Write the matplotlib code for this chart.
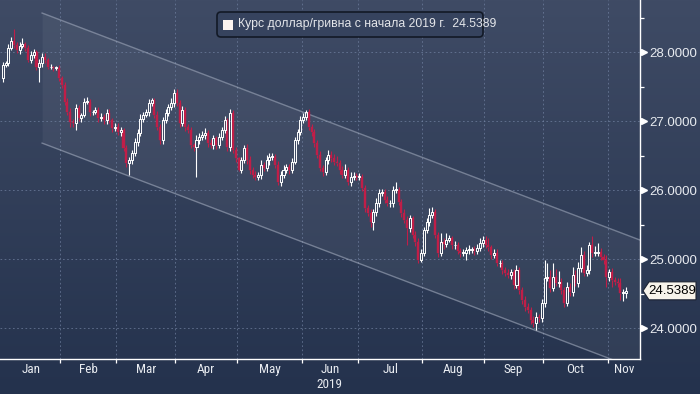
import numpy as np
import pandas as pd
import matplotlib
matplotlib.use("Agg")
import matplotlib.pyplot as plt
from matplotlib import font_manager, transforms
from matplotlib.patches import Rectangle, Polygon, FancyBboxPatch
from matplotlib.collections import PatchCollection, LineCollection
from matplotlib.ticker import NullFormatter

# trading days shown on the chart
dates = pd.bdate_range("2019-01-03", "2019-11-11")

# daily closes, USD/UAH
jan = [27.81, 27.84, 28.06, 28.16, 28.10, 28.03, 28.09, 28.12, 28.06, 27.88, 27.96,
       28.00, 27.78, 27.84, 27.93, 27.88, 27.78, 27.78, 27.77, 27.77, 27.62]
feb = [27.52, 27.28, 27.13, 26.99, 26.97, 27.19, 27.04, 27.09, 27.28, 27.28,
       27.13, 27.13, 27.16, 27.04, 27.06, 27.01, 27.12, 27.01, 26.90, 26.92]
mar = [26.84, 26.87, 26.61, 26.39, 26.43, 26.54, 26.70, 26.83, 27.03, 27.09, 27.13,
       27.26, 27.30, 27.09, 26.91, 26.72, 27.01, 27.12, 27.20, 27.26, 27.41]
apr = [27.26, 26.97, 27.16, 26.91, 26.87, 26.65, 26.62, 26.72, 26.77, 26.80, 26.83,
       26.68, 26.65, 26.75, 26.65, 26.77, 26.87, 27.01, 26.62, 27.12, 26.58, 26.46]
may = [26.29, 26.43, 26.61, 26.43, 26.29, 26.22, 26.19, 26.22, 26.36, 26.32, 26.43, 26.48,
       26.48, 26.36, 26.12, 26.22, 26.29, 26.33, 26.29, 26.41, 26.72, 26.84, 27.01]
jun = [27.06, 27.13, 26.91, 26.84, 26.68, 26.51, 26.32, 26.26, 26.43, 26.51,
       26.46, 26.41, 26.39, 26.29, 26.22, 26.29, 26.12, 26.19, 26.20, 26.19]
jul = [26.19, 26.03, 25.74, 25.67, 25.54, 25.68, 25.81, 25.96, 25.97, 25.86, 25.81, 25.81,
       26.00, 26.00, 25.83, 25.67, 25.57, 25.45, 25.59, 25.35, 25.25, 24.99, 25.09]
aug = [25.42, 25.54, 25.64, 25.68, 25.35, 25.09, 25.25, 25.22, 25.28, 25.30, 25.20,
       25.20, 25.12, 25.09, 25.09, 25.13, 25.13, 25.14, 25.12, 25.16, 25.23, 25.28]
sep = [25.20, 25.17, 25.06, 25.09, 24.94, 24.94, 24.84, 24.80, 24.77, 24.81, 24.62,
       24.84, 24.55, 24.41, 24.30, 24.26, 24.12, 24.07, 24.16, 24.14, 24.36]
oct = [24.72, 24.74, 24.58, 24.74, 24.65, 24.67, 24.55, 24.36, 24.59, 24.52, 24.77, 24.65,
       24.87, 25.06, 24.80, 24.84, 25.20, 25.09, 25.09, 25.10, 25.03, 24.99, 24.74]
nov = [24.81, 24.70, 24.67, 24.65, 24.51, 24.51, 24.5389]
first_open = 27.62

# wick lengths above / below the candle body
hi_wick = [0.04, 0.03, 0.05, 0.06, 0.17, 0.04, 0.06, 0.08, 0.03, 0.04, 0.05, 0.04, 0.03, 0.06, 0.05, 0.06, 0.03, 0.04, 0.02, 0.03, 0.04,
           0.03, 0.04, 0.05, 0.06, 0.04, 0.05, 0.04, 0.03, 0.05, 0.07, 0.04, 0.03, 0.05, 0.04, 0.06, 0.04, 0.05, 0.06, 0.04, 0.05,
           0.05, 0.04, 0.03, 0.04, 0.05, 0.04, 0.06, 0.05, 0.07, 0.04, 0.05, 0.06, 0.04, 0.03, 0.05, 0.04, 0.05, 0.06, 0.04, 0.07, 0.05,
           0.05, 0.04, 0.06, 0.05, 0.04, 0.05, 0.03, 0.08, 0.06, 0.05, 0.07, 0.04, 0.06, 0.05, 0.04, 0.06, 0.05, 0.07, 0.04, 0.05, 0.04, 0.05,
           0.02, 0.05, 0.04, 0.05, 0.06, 0.04, 0.05, 0.04, 0.07, 0.05, 0.08, 0.06, 0.05, 0.04, 0.06, 0.05, 0.07, 0.04, 0.05, 0.06, 0.05, 0.04, 0.06,
           0.05, 0.03, 0.04, 0.05, 0.04, 0.05, 0.06, 0.04, 0.05, 0.07, 0.05, 0.06, 0.08, 0.05, 0.06, 0.09, 0.05, 0.07, 0.06, 0.05,
           0.05, 0.04, 0.05, 0.04, 0.06, 0.05, 0.07, 0.06, 0.05, 0.04, 0.06, 0.05, 0.06, 0.12, 0.05, 0.04, 0.05, 0.06, 0.05, 0.04, 0.05, 0.06, 0.05,
           0.05, 0.06, 0.10, 0.08, 0.05, 0.04, 0.12, 0.06, 0.10, 0.05, 0.04, 0.06, 0.05, 0.04, 0.06, 0.05, 0.07, 0.04, 0.05, 0.06, 0.08, 0.05,
           0.05, 0.10, 0.04, 0.05, 0.06, 0.04, 0.05, 0.04, 0.06, 0.05, 0.04, 0.08, 0.05, 0.04, 0.05, 0.06, 0.04, 0.05, 0.07, 0.05, 0.06,
           0.27, 0.20, 0.10, 0.20, 0.12, 0.16, 0.06, 0.05, 0.08, 0.06, 0.12, 0.07, 0.08, 0.12, 0.06, 0.07, 0.05, 0.14, 0.10, 0.13, 0.06, 0.05, 0.07,
           0.05, 0.06, 0.04, 0.05, 0.07, 0.06, 0.05]
lo_wick = [0.05, 0.03, 0.04, 0.03, 0.04, 0.05, 0.06, 0.03, 0.04, 0.03, 0.04, 0.05, 0.04, 0.21, 0.05, 0.04, 0.03, 0.03, 0.04, 0.03, 0.04,
           0.04, 0.05, 0.04, 0.08, 0.05, 0.10, 0.04, 0.05, 0.03, 0.04, 0.05, 0.04, 0.03, 0.05, 0.04, 0.06, 0.05, 0.04, 0.06, 0.05,
           0.04, 0.05, 0.04, 0.06, 0.17, 0.05, 0.04, 0.06, 0.05, 0.04, 0.03, 0.05, 0.04, 0.05, 0.04, 0.05, 0.06, 0.04, 0.05, 0.04, 0.05,
           0.04, 0.05, 0.04, 0.06, 0.05, 0.04, 0.05, 0.43, 0.05, 0.04, 0.06, 0.05, 0.04, 0.06, 0.05, 0.04, 0.05, 0.04, 0.06, 0.05, 0.04, 0.05,
           0.02, 0.05, 0.04, 0.05, 0.06, 0.05, 0.04, 0.05, 0.06, 0.04, 0.05, 0.07, 0.05, 0.04, 0.05, 0.06, 0.05, 0.04, 0.06, 0.05, 0.04, 0.05, 0.04,
           0.04, 0.05, 0.04, 0.05, 0.06, 0.04, 0.05, 0.06, 0.04, 0.05, 0.06, 0.05, 0.04, 0.06, 0.05, 0.04, 0.05, 0.06, 0.04, 0.05,
           0.04, 0.05, 0.06, 0.05, 0.07, 0.12, 0.06, 0.05, 0.04, 0.05, 0.04, 0.06, 0.05, 0.04, 0.05, 0.06, 0.05, 0.25, 0.06, 0.05, 0.06, 0.05, 0.04,
           0.04, 0.05, 0.06, 0.04, 0.05, 0.06, 0.04, 0.08, 0.05, 0.04, 0.06, 0.05, 0.04, 0.06, 0.05, 0.10, 0.05, 0.04, 0.06, 0.05, 0.04, 0.05,
           0.04, 0.05, 0.06, 0.05, 0.04, 0.05, 0.06, 0.04, 0.05, 0.06, 0.05, 0.04, 0.05, 0.06, 0.05, 0.04, 0.06, 0.05, 0.10, 0.06, 0.05,
           0.05, 0.04, 0.06, 0.05, 0.04, 0.05, 0.06, 0.05, 0.04, 0.06, 0.05, 0.04, 0.05, 0.06, 0.05, 0.04, 0.05, 0.06, 0.04, 0.05, 0.04, 0.06, 0.15,
           0.06, 0.10, 0.05, 0.06, 0.10, 0.12, 0.08]

month_names = ["Jan", "Feb", "Mar", "Apr", "May", "Jun", "Jul", "Aug", "Sep", "Oct", "Nov"]
y_ticks = [24, 25, 26, 27, 28]
y_minor = [24.5, 25.5, 26.5, 27.5, 28.5]
last_price = 24.5389
legend_label = "Курс доллар/гривна с начала 2019 г."

# trend channel (day index, level)
chan_x = [14, 227]
chan_upper = [28.565, 25.275]
chan_lower = [26.68, 23.39]


def pick(*names):
    have = {f.name for f in font_manager.fontManager.ttflist}
    for n in names:
        if n in have:
            return n
    return "DejaVu Sans"


f_narrow = pick("Liberation Sans Narrow", "Roboto Condensed", "DejaVu Sans")
f_main = pick("Liberation Sans", "Arial", "DejaVu Sans")

close = np.array(jan + feb + mar + apr + may + jun + jul + aug + sep + oct + nov)
hi_w = np.array(hi_wick)
lo_w = np.array(lo_wick)
assert len(close) == len(dates) == len(hi_w) == len(lo_w)
opens = np.r_[first_open, close[:-1]]
top = np.maximum(opens, close)
bot = np.minimum(opens, close)
high = top + hi_w
low = bot - lo_w
x = np.arange(len(close))
up = close >= opens

W, H = 700, 394
fig = plt.figure(figsize=(W / 100, H / 100), dpi=100)

# background gradient
bg = fig.add_axes([0, 0, 1, 1], zorder=-10)
g = np.linspace(0, 1, 256)[:, None, None]
c_top = np.array([63, 75, 101]) / 255
c_bot = np.array([36, 50, 77]) / 255
bg.imshow(c_top * (1 - g) + c_bot * g, aspect="auto", extent=[0, 1, 0, 1])
bg.axis("off")

ax = fig.add_axes([0, 35 / H, 640 / W, 359 / H])
ax.set_facecolor("none")
x_lo, x_hi = -1, 227
ax.set_xlim(x_lo, x_hi)
ax.set_ylim(23.551, 28.754)

# channel
ax.fill_between(chan_x, chan_lower, chan_upper, color="white", alpha=0.05, lw=0, zorder=1)
ax.plot(chan_x, chan_upper, color="#a9b2c4", lw=1.0, alpha=0.55, zorder=2)
ax.plot(chan_x, chan_lower, color="#a9b2c4", lw=1.0, alpha=0.55, zorder=2)

# candles
red = "#c01e48"
cw = 0.72
up_boxes, dn_boxes, up_wicks, dn_wicks = [], [], [], []
for i in x:
    h = max(top[i] - bot[i], 0.008)
    box = Rectangle((i - cw / 2, bot[i]), cw, h)
    segs = [[(i, top[i]), (i, high[i])], [(i, low[i]), (i, bot[i])]]
    if up[i]:
        up_boxes.append(box)
        up_wicks += segs
    else:
        dn_boxes.append(box)
        dn_wicks += segs
ax.add_collection(LineCollection(dn_wicks, colors=red, linewidths=0.8, zorder=3))
ax.add_collection(PatchCollection(dn_boxes, facecolor=red, edgecolor=red, linewidth=0.3, zorder=3))
ax.add_collection(LineCollection(up_wicks, colors="white", linewidths=0.8, zorder=4))
ax.add_collection(PatchCollection(up_boxes, facecolor="none", edgecolor="white", linewidth=0.7, zorder=4))

# month ticks: boundaries as major, mid-month labels as minor
month_id = dates.year * 12 + dates.month
starts = np.r_[0, np.nonzero(np.diff(month_id))[0] + 1]
bounds = starts[1:] - 0.5
edges = np.r_[-0.5, bounds, x_hi]
mids = (edges[:-1] + edges[1:]) / 2
ax.set_xticks(bounds)
ax.xaxis.set_major_formatter(NullFormatter())
ax.set_xticks(mids, minor=True)
ax.set_xticklabels(month_names, minor=True, fontfamily=f_narrow, fontsize=9.5, color="#e8ebf0")
ax.tick_params(axis="x", which="major", length=3, width=0.9, color="white", direction="out")
ax.tick_params(axis="x", which="minor", length=0, pad=3)

ax.yaxis.tick_right()
ax.set_yticks(y_ticks)
ax.set_yticklabels([f"{v:.4f}" for v in y_ticks], fontfamily=f_main, fontsize=9.5, color="#e8ebf0")
ax.set_yticks(y_minor, minor=True)
ax.tick_params(axis="y", which="major", length=0, pad=7)
ax.tick_params(axis="y", which="minor", length=3, width=0.9, color="white", direction="out")

ax.grid(True, which="major", color="#7282a2", ls=(0, (2, 3)), lw=0.6, alpha=0.8, zorder=0)

for s in ["left", "top"]:
    ax.spines[s].set_visible(False)
for s in ["right", "bottom"]:
    ax.spines[s].set_color("white")
    ax.spines[s].set_linewidth(1.0)

# arrow-head major ticks on the price axis
tr = transforms.blended_transform_factory(ax.transAxes, ax.transData)
tr = transforms.offset_copy(tr, fig=fig, x=4, y=0, units="dots")
ax.plot([1] * len(y_ticks), y_ticks, ls="none", marker=">", ms=5, color="white",
        transform=tr, clip_on=False)

# year under June
jun_mid = mids[month_names.index("Jun")]
ax.annotate("2019", xy=(jun_mid, 0), xycoords=("data", "axes fraction"),
            xytext=(0, -18), textcoords="offset points", ha="center", va="center",
            fontfamily=f_narrow, fontsize=9.5, color="#e8ebf0", annotation_clip=False)

# last price tag
fig.canvas.draw()
yp = ax.transData.transform((0, last_price))[1]
tag = Polygon([(643, yp), (649, yp + 9), (696, yp + 9), (696, yp - 9), (649, yp - 9)],
              closed=True, facecolor="#f7f3ea", edgecolor="#1b2232", lw=0.8,
              transform=transforms.IdentityTransform())
fig.add_artist(tag)
fig.text(672.5 / W, yp / H, f"{last_price:.4f}", ha="center", va="center",
         fontfamily=f_main, fontsize=9.5, color="black")

# legend box
lb = FancyBboxPatch((217, H - 37), 266, 25, boxstyle="round,pad=0,rounding_size=4",
                    facecolor="#36435e", edgecolor="#121926", lw=1.2,
                    transform=transforms.IdentityTransform())
fig.add_artist(lb)
fig.add_artist(Rectangle((223, H - 29.5), 10, 10, facecolor="#fbf3ef", edgecolor="none",
                         transform=transforms.IdentityTransform()))
fig.text(238 / W, (H - 24.5) / H, f"{legend_label}  {last_price:.4f}", ha="left", va="center",
         fontfamily=f_main, fontsize=8.8, color="#e4e6ea")

fig.savefig("out.png", dpi=100)
